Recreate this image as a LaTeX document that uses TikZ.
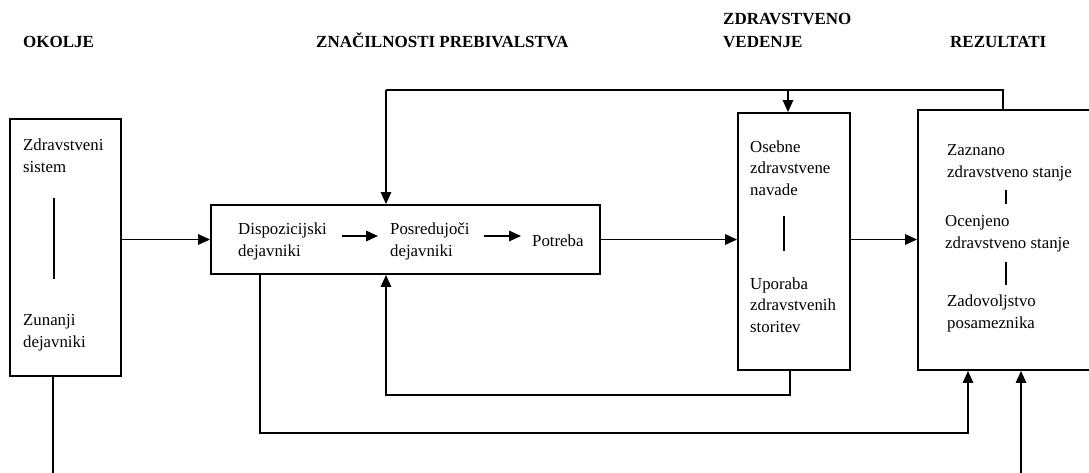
\documentclass[tikz,border=0pt]{standalone}
\usepackage{fontspec}
\setmainfont{Liberation Serif}
\usetikzlibrary{arrows.meta,calc}
\begin{document}
\begin{tikzpicture}[x=1pt,y=-1pt,
  box/.style={draw, line width=1.9pt, inner sep=0pt},
  lbl/.style={anchor=base west, inner sep=0pt, align=left, font=\fontsize{16.8}{21.5}\selectfont},
  head/.style={anchor=base west, inner sep=0pt, align=left, font=\fontsize{17}{23}\selectfont\bfseries},
  conn/.style={line width=1.6pt},
  arr/.style={conn, -{Triangle[length=12pt,width=10.5pt]}},
  sep/.style={line width=1.6pt}]
\useasboundingbox (0,0) rectangle (1089,472);
\fill[white] (0,0) rectangle (1089,472);

% column headings (multi-line nodes sit on the baseline of their last line)
\node[head] (hEnv) at (23,47) {OKOLJE};
\node[head] (hPop) at (316,47) {ZNAČILNOSTI PREBIVALSTVA};
\node[head] (hBeh) at (723,47) {ZDRAVSTVENO\\VEDENJE};
\node[head] (hOut) at (950,47) {REZULTATI};

% main boxes
\node[box, minimum width=111pt, minimum height=257pt] (env) at (65.5,247.5) {};
\node[box, minimum width=389pt, minimum height=69pt] (pop) at (405.5,239.5) {};
\node[box, minimum width=112pt, minimum height=257pt] (beh) at (794,241.5) {};
\node[box, minimum width=182pt, minimum height=260pt] (out) at (1009,240) {};

% environment
\node[lbl] (sys) at (23,172) {Zdravstveni\\sistem};
\node[lbl] (ext) at (23,347) {Zunanji\\dejavniki};
\coordinate (envA) at (54,198);
\coordinate (envB) at (54,279);
\draw[sep] (envA) -- (envB);

% population characteristics
\node[lbl] (disp) at (238,256) {Dispozicijski\\dejavniki};
\node[lbl] (posr) at (390,256) {Posredujoči\\dejavniki};
\node[lbl] (potr) at (532,246) {Potreba};
\coordinate (a1s) at (342,236);
\coordinate (a1e) at (378,236);
\coordinate (a2s) at (484,236);
\coordinate (a2e) at (521,236);
\draw[arr] (a1s) -- (a1e);
\draw[arr] (a2s) -- (a2e);

% health behaviour
\node[lbl] (hab) at (750,195) {Osebne\\zdravstvene\\navade};
\node[lbl] (use) at (750,332) {Uporaba\\zdravstvenih\\storitev};
\coordinate (behA) at (784,216);
\coordinate (behB) at (784,251);
\draw[sep] (behA) -- (behB);

% outcomes
\node[lbl] (perc) at (947,177) {Zaznano\\zdravstveno stanje};
\node[lbl] (eval) at (945,248) {Ocenjeno\\zdravstveno stanje};
\node[lbl] (sat) at (947,328) {Zadovoljstvo\\posameznika};
\coordinate (outA) at (1006,190);
\coordinate (outB) at (1006,204);
\coordinate (outC) at (1006,262);
\coordinate (outD) at (1006,285);
\draw[sep] (outA) -- (outB);
\draw[sep] (outC) -- (outD);

% forward flow
\draw[arr] (pop.west -| env.east) -- (pop.west);
\draw[arr] (pop.east) -- (pop.east -| beh.west);
\draw[arr] (pop.east -| beh.east) -- (pop.east -| out.west);

% feedback along the top
\coordinate (tR) at (1003,90);
\coordinate (tM) at (788,90);
\coordinate (tL) at (386,90);
\draw[conn] (tR |- out.north) -- (tR) -- (tL);
\draw[arr] (tL) -- (tL |- pop.north);
\draw[arr] (tM) -- (tM |- beh.north);

% feedback from health behaviour to the population box
\coordinate (bR) at (790,395);
\coordinate (bL) at (386,395);
\draw[arr] (bR |- beh.south) -- (bR) -- (bL) -- (bL |- pop.south);

% population characteristics to outcomes
\coordinate (oL) at (260,433);
\coordinate (oR) at (968,433);
\draw[arr] (oL |- pop.south) -- (oL) -- (oR) -- (oR |- out.south);

% lines leaving and entering at the lower edge
\coordinate (envEnd) at (53,480);
\draw[conn] (envEnd |- env.south) -- (envEnd);
\coordinate (inR) at (1021,480);
\draw[arr] (inR) -- (inR |- out.south);
\end{tikzpicture}
\end{document}
